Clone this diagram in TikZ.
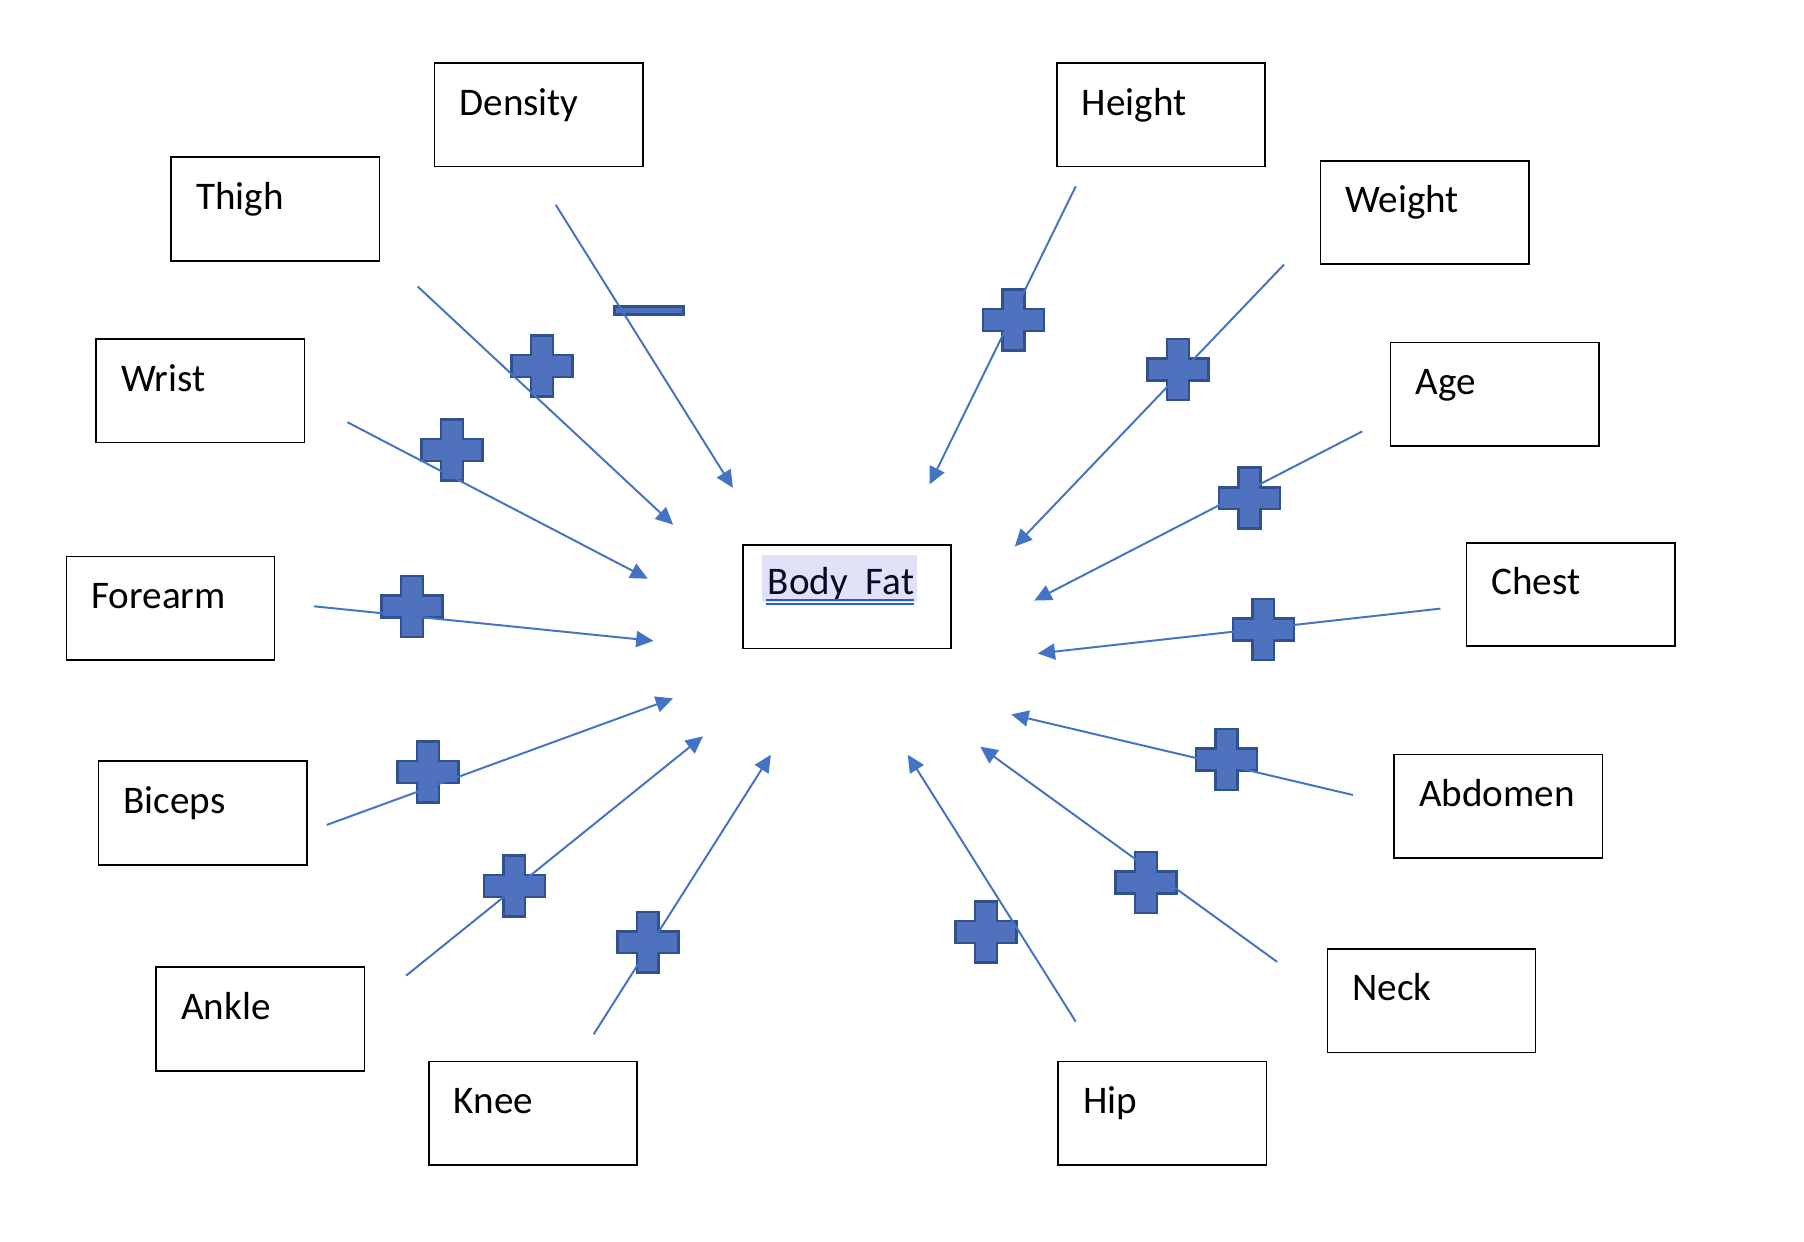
\documentclass[tikz,border=0pt]{standalone}
\usepackage{fontspec}
\setmainfont{Carlito}
\usetikzlibrary{arrows.meta}
\definecolor{linkblue}{HTML}{4472C4}
\definecolor{plusfill}{HTML}{4F71BE}
\definecolor{plusedge}{HTML}{2F528F}
\definecolor{markbg}{HTML}{E1E1F7}
\definecolor{ulblue}{HTML}{2B5BD7}
\definecolor{navy}{HTML}{0A0A28}

\tikzset{
	box/.style={draw=black,line width=0.7pt,minimum width=90.5pt,minimum height=45pt,anchor=north west,inner sep=0pt},
	lbl/.style={anchor=base west,inner sep=0pt,font=\fontsize{17}{20}\selectfont},
	link/.style={draw=linkblue,line width=0.85pt,-{Triangle[length=7.5pt,width=7pt]}},
	plussign/.pic={\filldraw[fill=plusfill,draw=plusedge,line width=1.1pt] (-9.5,-26.5) -- (9.5,-26.5) -- (9.5,-9.5) -- (26.5,-9.5) -- (26.5,9.5) -- (9.5,9.5) -- (9.5,26.5) -- (-9.5,26.5) -- (-9.5,9.5) -- (-26.5,9.5) -- (-26.5,-9.5) -- (-9.5,-9.5) -- cycle;},
	minussign/.pic={\filldraw[fill=plusfill,draw=plusedge,line width=1.1pt] (-30,-3.5) rectangle (30,3.5);}
}

\begin{document}
\begin{tikzpicture}[x=0.5pt,y=-0.5pt]
	\useasboundingbox (0,0) rectangle (1568,1079.5);
	% boxes round the centre
	\foreach \n/\t/\x/\y in {density/Density/377/54, height/Height/918/54, thigh/Thigh/148/136, weight/Weight/1147/139, wrist/Wrist/83/294, age/Age/1208/297, forearm/Forearm/57/483, chest/Chest/1274/471, biceps/Biceps/85/661, abdomen/Abdomen/1211/655, ankle/Ankle/135/840, neck/Neck/1153/824, knee/Knee/372/922, hip/Hip/919/922}
	{
		\node[box] (\n) at (\x,\y) {};
		\node[lbl] (\n-t) at ([shift={(22,46)}]\n.north west) {\t};
	}
	% centre box
	\node[box] (bodyfat) at (645,473) {};
	\fill[markbg] (662,482.5) rectangle (797,523.5);
	\node[lbl,text=navy] (bodyfat-t) at (667,517) {Body\ \ Fat};
	\draw[ulblue,line width=0.7pt] (666,521.5) -- (794,521.5);
	\draw[ulblue,line width=0.7pt] (666,525) -- (794,525);
	% signs
	\pic at (564,270) {minussign};
	\foreach \x/\y in {471/318, 393/391, 358/527, 372/671, 447/770, 563/819, 857/810, 996/767, 1066/660, 1098/547, 1086/433, 1024/321, 881/278}
		\pic at (\x,\y) {plussign};
	% arrows
	\coordinate (density-s) at (483,178); \coordinate (density-e) at (637,424);
	\coordinate (thigh-s) at (363,249); \coordinate (thigh-e) at (585,456);
	\coordinate (wrist-s) at (302,367); \coordinate (wrist-e) at (563,503);
	\coordinate (forearm-s) at (273,527); \coordinate (forearm-e) at (568,557);
	\coordinate (biceps-s) at (284,717); \coordinate (biceps-e) at (585,607);
	\coordinate (ankle-s) at (353,848); \coordinate (ankle-e) at (611,640);
	\coordinate (knee-s) at (516,899); \coordinate (knee-e) at (670,656);
	\coordinate (hip-s) at (935,888); \coordinate (hip-e) at (789,656);
	\coordinate (neck-s) at (1110,836); \coordinate (neck-e) at (852,649);
	\coordinate (abdomen-s) at (1176,691); \coordinate (abdomen-e) at (879,621);
	\coordinate (chest-s) at (1252,529); \coordinate (chest-e) at (902,568);
	\coordinate (age-s) at (1184,375); \coordinate (age-e) at (899,522);
	\coordinate (weight-s) at (1116,230); \coordinate (weight-e) at (882,475);
	\coordinate (height-s) at (935,162); \coordinate (height-e) at (808,421);
	\foreach \n in {density,thigh,wrist,forearm,biceps,ankle,knee,hip,neck,abdomen,chest,age,weight,height}
		\draw[link] (\n-s) -- (\n-e);
\end{tikzpicture}
\end{document}
